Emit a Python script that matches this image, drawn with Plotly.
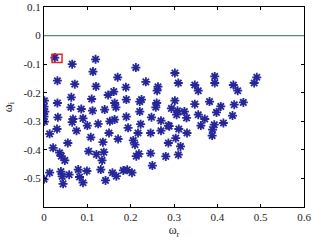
import plotly.graph_objects as go

# Eigenvalue real parts (omega_r) and imaginary parts (omega_i)
omega_r = [
    0.025, 0.065, 0.119, 0.113, 0.031, 0.071, 0.120, 0.170, 0.189, 0.148,
    0.161, 0.001, 0.000, 0.002, 0.000, 0.001, 0.031, 0.063, 0.062, 0.086,
    0.110, 0.112, 0.140, 0.163, 0.166, 0.190, 0.032, 0.067, 0.065, 0.090,
    0.125, 0.152, 0.163, 0.100, 0.212, 0.302, 0.310, 0.235, 0.263, 0.261,
    0.190, 0.225, 0.221, 0.260, 0.258, 0.302, 0.348, 0.382, 0.221, 0.294,
    0.308, 0.306, 0.324, 0.248, 0.270, 0.329, 0.356, 0.371, 0.223, 0.287,
    0.393, 0.348, 0.356, 0.394, 0.394, 0.437, 0.447, 0.491, 0.485, 0.408,
    0.398, 0.439, 0.460, 0.435, 0.414, 0.013, 0.030, 0.075, 0.150, 0.108,
    0.136, 0.171, 0.194, 0.055, 0.021, 0.036, 0.040, 0.048, 0.103, 0.121,
    0.138, 0.134, 0.131, 0.000, 0.013, 0.039, 0.042, 0.044, 0.058, 0.079,
    0.082, 0.090, 0.099, 0.142, 0.158, 0.167, 0.183, 0.192, 0.217, 0.246,
    0.270, 0.289, 0.311, 0.330, 0.362, 0.389, 0.388, 0.206, 0.210, 0.287,
    0.304, 0.315, 0.213, 0.219, 0.246, 0.281, 0.310, 0.250, 0.203,
]
omega_i = [
    -0.077, -0.100, -0.083, -0.126, -0.158, -0.170, -0.178, -0.146, -0.181, -0.208,
    -0.196, -0.228, -0.249, -0.266, -0.284, -0.301, -0.236, -0.216, -0.251, -0.257,
    -0.222, -0.263, -0.259, -0.236, -0.251, -0.284, -0.286, -0.292, -0.303, -0.290,
    -0.309, -0.300, -0.294, -0.315, -0.112, -0.131, -0.166, -0.162, -0.179, -0.193,
    -0.224, -0.224, -0.231, -0.236, -0.251, -0.228, -0.240, -0.231, -0.266, -0.255,
    -0.263, -0.277, -0.266, -0.286, -0.298, -0.288, -0.277, -0.292, -0.310, -0.315,
    -0.312, -0.173, -0.193, -0.143, -0.166, -0.173, -0.193, -0.146, -0.166, -0.248,
    -0.269, -0.242, -0.234, -0.280, -0.306, -0.344, -0.327, -0.333, -0.341, -0.356,
    -0.373, -0.362, -0.323, -0.376, -0.393, -0.410, -0.422, -0.437, -0.405, -0.416,
    -0.408, -0.437, -0.469, -0.503, -0.480, -0.476, -0.493, -0.519, -0.487, -0.469,
    -0.495, -0.515, -0.474, -0.507, -0.480, -0.492, -0.472, -0.470, -0.341, -0.341,
    -0.333, -0.317, -0.327, -0.341, -0.315, -0.329, -0.350, -0.367, -0.382, -0.376,
    -0.359, -0.388, -0.422, -0.414, -0.412, -0.423, -0.417, -0.455, -0.480,
]

x_ticks = [0, 0.1, 0.2, 0.3, 0.4, 0.5, 0.6]
x_tick_labels = ["0", "0.1", "0.2", "0.3", "0.4", "0.5", "0.6"]
y_ticks = [-0.5, -0.4, -0.3, -0.2, -0.1, 0, 0.1]
y_tick_labels = ["-0.5", "-0.4", "-0.3", "-0.2", "-0.1", "0", "0.1"]

# Highlight box around the least-stable mode
box_x = [0.0185, 0.0416]
box_y = [-0.094, -0.065]

font_family = "Liberation Serif, Times New Roman, serif"

fig = go.Figure()
fig.add_trace(go.Scatter(
    x=omega_r, y=omega_i, mode="markers",
    marker=dict(symbol="asterisk-open", size=7.5, color="#25269a",
                line=dict(color="#25269a", width=1.8)),
    showlegend=False, hoverinfo="skip",
))

fig.add_shape(type="line", xref="paper", yref="y", x0=0, x1=1, y0=0, y1=0,
              line=dict(color="#5b8c70", width=1.2))
fig.add_shape(type="rect", xref="x", yref="y",
              x0=box_x[0], x1=box_x[1], y0=box_y[0], y1=box_y[1],
              line=dict(color="#e8201c", width=1.5))

axis_common = dict(
    showgrid=False, zeroline=False, showline=True, linecolor="black",
    linewidth=1, mirror="ticks", ticks="inside", ticklen=3, tickwidth=1,
    tickcolor="black", automargin=False,
    tickfont=dict(family=font_family, size=11, color="#222"),
)

fig.update_xaxes(range=[0, 0.6], tickvals=x_ticks, ticktext=x_tick_labels,
                 title=dict(text="ω<sub>r</sub>", standoff=2,
                            font=dict(family=font_family, size=12, color="#222")),
                 **axis_common)
fig.update_yaxes(range=[-0.6, 0.1], tickvals=y_ticks, ticktext=y_tick_labels,
                 title=dict(text="ω<sub>i</sub>", standoff=8,
                            font=dict(family=font_family, size=12, color="#222")),
                 **axis_common)

fig.update_layout(
    width=312, height=242,
    margin=dict(l=44, r=8, t=7, b=35),
    paper_bgcolor="white", plot_bgcolor="white",
    font=dict(family=font_family),
)

fig.write_html("out.html",
               config={"displayModeBar": False, "staticPlot": True},
               post_script="document.body.style.margin='0';document.body.style.overflow='hidden';")
